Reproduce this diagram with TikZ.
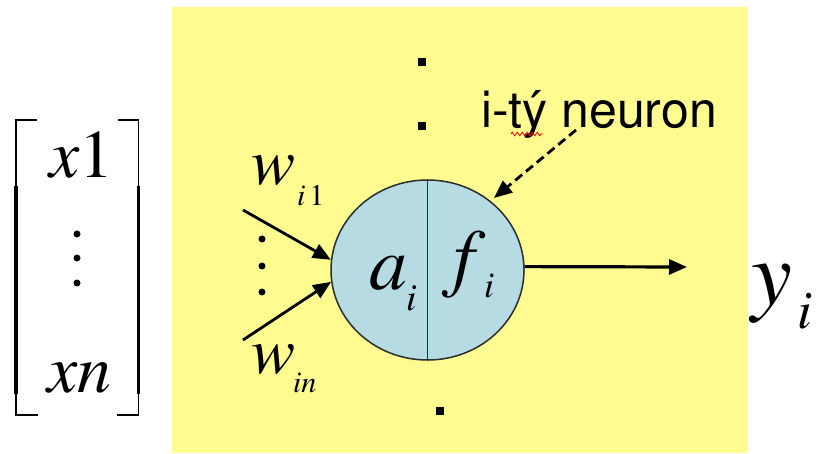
\documentclass[tikz,border=0pt]{standalone}
\usepackage[T1]{fontenc}
\newcommand{\timesfont}{\fontfamily{ptm}\selectfont}
\newcommand{\arialfont}{\fontfamily{phv}\selectfont}
\usetikzlibrary{shapes.geometric,arrows.meta,decorations.pathmorphing}
\definecolor{bgyellow}{RGB}{255,251,145}
\definecolor{cellblue}{RGB}{182,219,226}
\definecolor{edgegray}{RGB}{40,45,45}
\begin{document}
\begin{tikzpicture}[x=1pt,y=-1pt,
  txt/.style={inner sep=0pt, outer sep=0pt, anchor=base west},
  dotc/.style={circle, fill=black, inner sep=0pt, minimum size=7pt},
  sqdot/.style={rectangle, fill=black, inner sep=0pt, minimum size=7.5pt},
  inarrow/.style={line width=2.8pt, -{Triangle[length=18pt,width=15pt]}},
  outarrow/.style={line width=3.2pt, -{Triangle[length=18pt,width=15pt]}},
  dasharrow/.style={line width=2.8pt, dash pattern=on 9pt off 5pt, -{Triangle[length=18pt,width=15pt]}},
  bracketthin/.style={line width=1.8pt},
  bracketthick/.style={line width=3.8pt}
]
\useasboundingbox (0,0) rectangle (816,454);
\fill[white] (0,0) rectangle (816,454);
\fill[bgyellow] (172,7) rectangle (748,453);

% input vector
\draw[bracketthin] (37,120) -- (15.7,120) -- (15.7,187);
\draw[bracketthick] (15.7,186) -- (15.7,394);
\draw[bracketthin] (15.7,393) -- (15.7,415) -- (38,415);
\draw[bracketthin] (118,120) -- (138.5,120) -- (138.5,187);
\draw[bracketthick] (138.5,186) -- (138.5,394);
\draw[bracketthin] (138.5,393) -- (138.5,415) -- (117,415);
\node[txt] (x1) at (49,178) {\timesfont\fontsize{68}{68}\selectfont\itshape x\upshape 1};
\node[dotc] (v1) at (77,234) {};
\node[dotc] (v2) at (77,258) {};
\node[dotc] (v3) at (77,283) {};
\node[txt] (xn) at (47,392) {\timesfont\fontsize{68}{68}\selectfont\itshape xn};

% neuron
\node[ellipse, draw=edgegray, line width=1.5pt, fill=cellblue,
      minimum width=193pt, minimum height=180pt, inner sep=0pt] (n) at (427.5,270) {};
\draw[line width=1.5pt, edgegray] (n.north) -- (n.south);
\node[txt] (a) at (369,290) {\timesfont\fontsize{76}{76}\selectfont\itshape a};
\node[txt] (ai) at (406,310) {\timesfont\fontsize{38}{38}\selectfont\itshape i};
\node[txt] (f) at (453,282) {\timesfont\fontsize{76}{76}\selectfont\itshape f};
\node[txt] (fi) at (484,297) {\timesfont\fontsize{36}{36}\selectfont\itshape i};

% vertical dots of the layer
\node[sqdot] (s1) at (422,62) {};
\node[sqdot] (s2) at (422,126) {};
\node[sqdot] (s3) at (440,411) {};

% inputs
\coordinate (in1) at (243,210);
\coordinate (inn) at (243,340);
\draw[inarrow] (in1) -- (n.174);
\draw[inarrow] (inn) -- (n.187);
\node[dotc] (w1) at (262,239) {};
\node[dotc] (w2) at (262,266) {};
\node[dotc] (w3) at (262,292) {};
\node[txt] (wi1) at (251,185) {\timesfont\fontsize{66}{66}\selectfont\itshape w};
\node[txt] (wi1s) at (297,206) {\timesfont\fontsize{30}{30}\selectfont\itshape i\hspace{4pt}\upshape 1};
\node[txt] (win) at (251,373) {\timesfont\fontsize{66}{66}\selectfont\itshape w};
\node[txt] (wins) at (293,392) {\timesfont\fontsize{30}{30}\selectfont\itshape in};

% output
\coordinate (out) at (687,267);
\draw[outarrow] (n.2) -- (out);
\node[txt] (y) at (751,304) {\timesfont\fontsize{92}{92}\selectfont\itshape y};
\node[txt] (yi) at (797,328) {\timesfont\fontsize{54}{54}\selectfont\itshape i};

% label
\node[txt] (lbl) at (481,128) {\arialfont\fontsize{50}{50}\selectfont i-t\'y neuron};
\draw[red, line width=0.8pt, decorate,
      decoration={zigzag, amplitude=1.8pt, segment length=5pt}] (511,134) -- (543,134);
\coordinate (lblfoot) at (576,130);
\coordinate (tip) at (494,198);
\draw[dasharrow] (lblfoot) -- (tip);
\end{tikzpicture}
\end{document}
